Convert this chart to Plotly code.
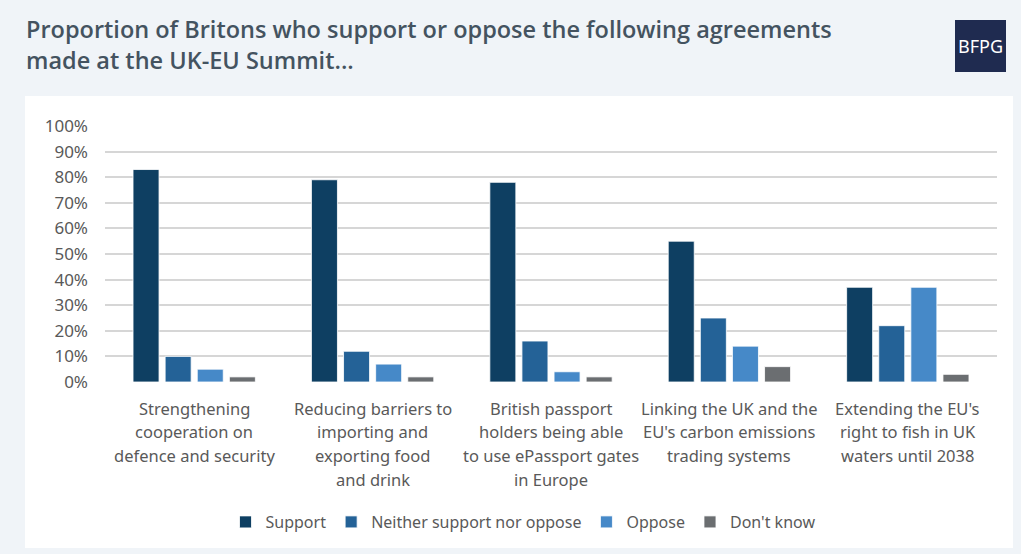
import plotly.graph_objects as go

categories = [
    "Strengthening<br>cooperation on<br>defence and security",
    "Reducing barriers to<br>importing and<br>exporting food<br>and drink",
    "British passport<br>holders being able<br>to use ePassport gates<br>in Europe",
    "Linking the UK and the<br>EU's carbon emissions<br>trading systems",
    "Extending the EU's<br>right to fish in UK<br>waters until 2038",
]
support = [83, 79, 78, 55, 37]
neither = [10, 12, 16, 25, 22]
oppose = [5, 7, 4, 14, 37]
dont_know = [2, 2, 2, 6, 3]
series_names = ["Support", "Neither support nor oppose", "Oppose", "Don't know"]
series_colors = ["#0e3f62", "#246297", "#4689c8", "#6b6e71"]
y_ticks = list(range(0, 101, 10))
title_text = "Proportion of Britons who support or oppose the following agreements<br>made at the UK-EU Summit..."

W, H = 1021, 554
L, R, T, B = 105, 24, 126, 172
pw, ph = W - L - R, H - T - B

def px_x(x):
    return (x - L) / pw

def px_y(y):
    return (H - B - y) / ph

fig = go.Figure()
for name, vals, col in zip(series_names, [support, neither, oppose, dont_know], series_colors):
    fig.add_trace(go.Bar(
        x=list(range(len(categories))), y=vals, name=name,
        marker=dict(color=col, line=dict(color="rgba(255,255,255,0.8)", width=1)),
    ))

annotations = []
for i, cat in enumerate(categories):
    for j, line in enumerate(cat.split("<br>")):
        annotations.append(dict(
            x=i, y=0, xref="x", yref="y", text=line, showarrow=False,
            yanchor="middle", xanchor="center", yshift=-(26 + 23.7 * j),
            font=dict(family="Noto Sans", size=16.5, color="#595959"),
        ))

annotations.append(dict(
    x=px_x(24), y=px_y(44), xref="paper", yref="paper", text=title_text,
    showarrow=False, xanchor="left", yanchor="middle", align="left",
    font=dict(family="Open Sans", size=23.5, color="#445360", weight=600),
))
annotations.append(dict(
    x=px_x(980.5), y=px_y(46), xref="paper", yref="paper", text="BFPG",
    showarrow=False, xanchor="center", yanchor="middle",
    font=dict(family="Noto Sans", size=18, color="#ffffff"),
))

shapes = [
    dict(type="rect", xref="paper", yref="paper", x0=px_x(25), x1=px_x(1013),
         y0=px_y(548), y1=px_y(96), fillcolor="#ffffff", line=dict(width=0), layer="below"),
    dict(type="rect", xref="paper", yref="paper", x0=px_x(955), x1=px_x(1006),
         y0=px_y(72), y1=px_y(20), fillcolor="#1f2b50", line=dict(width=0), layer="above"),
]

fig.update_layout(
    width=W, height=H,
    margin=dict(l=L, r=R, t=T, b=B, pad=0),
    paper_bgcolor="#f0f4f8",
    plot_bgcolor="rgba(0,0,0,0)",
    barmode="group", bargap=0.28, bargroupgap=0.19,
    showlegend=True,
    legend=dict(
        orientation="h", xref="container", yref="container",
        x=523 / W, xanchor="center", y=1 - 522 / H, yanchor="middle",
        font=dict(family="Noto Sans", size=16, color="#595959"),
        bgcolor="rgba(0,0,0,0)", traceorder="normal",
    ),
    xaxis=dict(range=[-0.5, len(categories) - 0.5], showticklabels=False,
               showgrid=False, zeroline=False, showline=False, ticks=""),
    yaxis=dict(range=[0, 100], tickvals=y_ticks, ticktext=[f"{v}%" for v in y_ticks],
               showgrid=True, gridcolor="#d6d6d6", gridwidth=1.5, zeroline=False,
               showline=False, ticks="", ticklabelstandoff=16,
               tickfont=dict(family="Noto Sans", size=17, color="#595959")),
    annotations=annotations,
    shapes=shapes,
)

fig.write_html("out.html", post_script="document.body.style.margin='0px';",
               config={"displayModeBar": False})
